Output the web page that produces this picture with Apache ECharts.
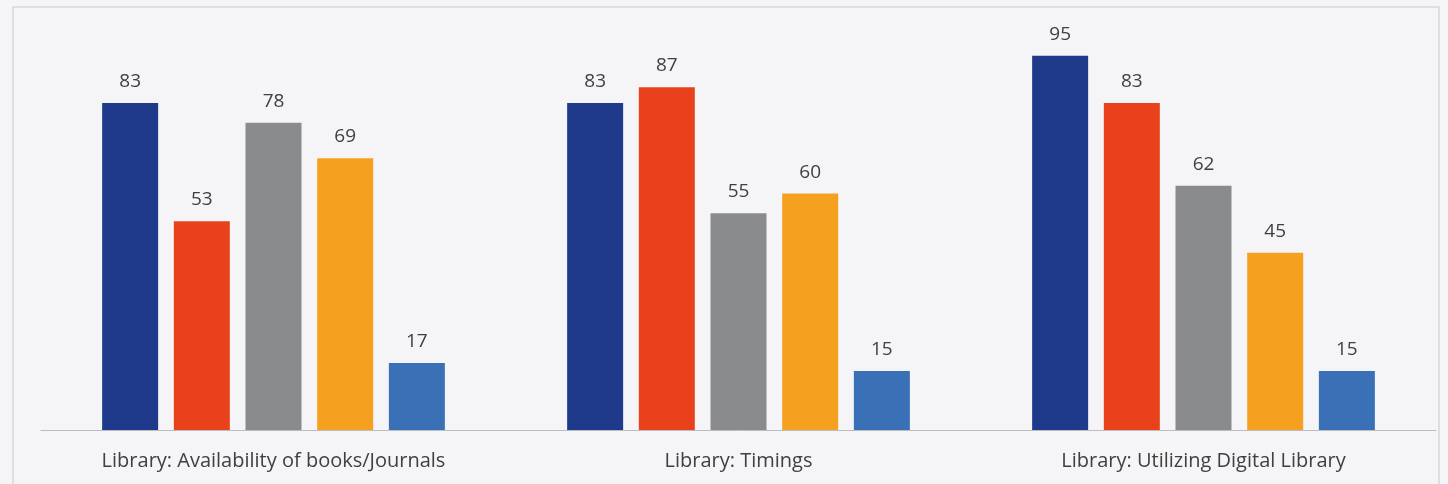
<!DOCTYPE html>
<html><head><meta charset="utf-8">
<script src="https://cdn.jsdelivr.net/npm/echarts@6/dist/echarts.min.js"></script>
<style>html,body{margin:0;padding:0;background:#f5f5f7;}#c{width:1448px;height:484px;}</style>
</head><body><div id="c"></div>
<script>
const categories = ['Library: Availability of books/Journals', 'Library: Timings', 'Library: Utilizing Digital Library'];
const s1 = [83, 83, 95];
const s2 = [53, 87, 83];
const s3 = [78, 55, 62];
const s4 = [69, 60, 45];
const s5 = [17, 15, 15];
const colors = ['#1f3a8a', '#e8411c', '#8a8b8d', '#f6a01f', '#3a70b6'];
const seriesData = [s1, s2, s3, s4, s5];

const chart = echarts.init(document.getElementById('c'));
chart.setOption({
  backgroundColor: '#f5f5f7',
  animation: false,
  graphic: [{type: 'rect', shape: {x: 13, y: 7, width: 1426, height: 490}, style: {fill: 'none', stroke: '#c9c9cd', lineWidth: 1}}],
  grid: {left: 41, right: 12, top: 36, bottom: 54},
  xAxis: {
    type: 'category', data: categories,
    axisLine: {lineStyle: {color: '#bdbdc1', width: 1}},
    axisTick: {show: false},
    axisLabel: {color: '#404040', fontSize: 20, fontFamily: 'Open Sans', margin: 21}
  },
  yAxis: {type: 'value', min: 0, max: 100, show: false, splitLine: {show: false}},
  series: seriesData.map((d, i) => ({
    type: 'bar', data: d, barWidth: 56, barGap: '28%',
    itemStyle: {color: colors[i]},
    label: {show: true, position: 'top', distance: 12, color: '#404040', fontSize: 19, fontFamily: 'Open Sans'}
  }))
});
</script></body></html>
